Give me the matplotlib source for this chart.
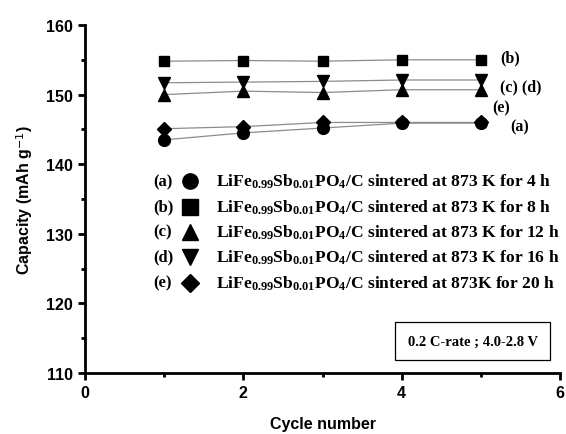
import matplotlib
matplotlib.use('Agg')
import matplotlib.pyplot as plt

plt.rcParams['mathtext.fontset'] = 'custom'
plt.rcParams['mathtext.rm'] = 'Liberation Serif:bold'
plt.rcParams['mathtext.it'] = 'Liberation Serif:bold'
plt.rcParams['mathtext.bf'] = 'Liberation Serif:bold'

cycles = [1, 2, 3, 4, 5]
cap_a = [143.5, 144.5, 145.2, 145.9, 145.9]  # 4 h
cap_b = [154.8, 154.9, 154.8, 155.0, 155.0]  # 8 h
cap_c = [150.0, 150.5, 150.3, 150.7, 150.7]  # 12 h
cap_d = [151.7, 151.8, 151.9, 152.1, 152.1]  # 16 h
cap_e = [145.1, 145.4, 146.0, 146.0, 146.0]  # 20 h

tags = ['(a)', '(b)', '(c)', '(d)', '(e)']
hours = [4, 8, 12, 16, 20]
markers = ['o', 's', '^', 'v', 'D']
series = [cap_a, cap_b, cap_c, cap_d, cap_e]
msizes = [8.5, 7.5, 8.5, 8.5, 7.5]

fig = plt.figure(figsize=(5.66, 4.35), dpi=100)
ax = fig.add_axes([0.1502, 0.1402, 0.8392, 0.80])

for ys, m, ms in zip(series, markers, msizes):
    ax.plot(cycles, ys, color='#8c8c8c', lw=0.9, marker=m, ms=ms,
            mfc='black', mec='black', zorder=3)

ax.set_xlim(0, 6)
ax.set_ylim(110, 160)
ax.set_xticks([0, 2, 4, 6])
ax.set_xticks([1, 3, 5], minor=True)
ax.set_yticks([110, 120, 130, 140, 150, 160])
ax.set_yticks([115, 125, 135, 145, 155], minor=True)

for s in ['top', 'right']:
    ax.spines[s].set_visible(False)
for s in ['left', 'bottom']:
    ax.spines[s].set_linewidth(2)
ax.tick_params(which='major', direction='out', length=5, width=2)
ax.tick_params(which='minor', direction='out', length=3, width=2)
for lab in ax.get_xticklabels() + ax.get_yticklabels():
    lab.set_family('Liberation Sans')
    lab.set_weight('bold')
    lab.set_fontsize(11.5)

ax.set_xlabel('Cycle number', family='Liberation Sans', weight='bold', fontsize=11.5, labelpad=12)
ax.set_ylabel(r'Capacity (mAh g$^{\mathsf{-1}}$)', family='Liberation Sans',
              weight='bold', fontsize=11.5, labelpad=8)

serif = dict(family='Liberation Serif', weight='bold', color='black')

# curve tags at the right end
ax.text(5.24, 155.4, '(b)', va='center', fontsize=11.5, **serif)
ax.text(5.24, 151.2, '(c) (d)', va='center', fontsize=11.5, **serif)
ax.text(5.14, 148.2, '(e)', va='center', fontsize=11.5, **serif)
ax.text(5.37, 145.5, '(a)', va='center', fontsize=11.5, **serif)

# key inside the plot
formula = r'LiFe$_{0.99}$Sb$_{0.01}$PO$_4$/C'
row_y = [137.6, 133.9, 130.3, 126.7, 123.0]
for i in range(5):
    y = row_y[i]
    ax.text(0.86, y, tags[i], va='center', ha='left', fontsize=12, **serif)
    ax.plot([1.33], [y], marker=markers[i], ms=11 if markers[i] != 'D' else 9,
            color='black', ls='none')
    k = ' K' if i < 4 else 'K'
    ax.text(1.65, y, f'{formula} sintered at 873{k} for {hours[i]} h',
            va='center', ha='left', fontsize=12.6, **serif)

ax.text(4.9, 114.6, '0.2 C-rate ; 4.0-2.8 V', va='center', ha='center', fontsize=10.5,
        bbox=dict(boxstyle='square,pad=0.85', fc='white', ec='black', lw=0.9), **serif)

fig.savefig('out.png', dpi=100)
